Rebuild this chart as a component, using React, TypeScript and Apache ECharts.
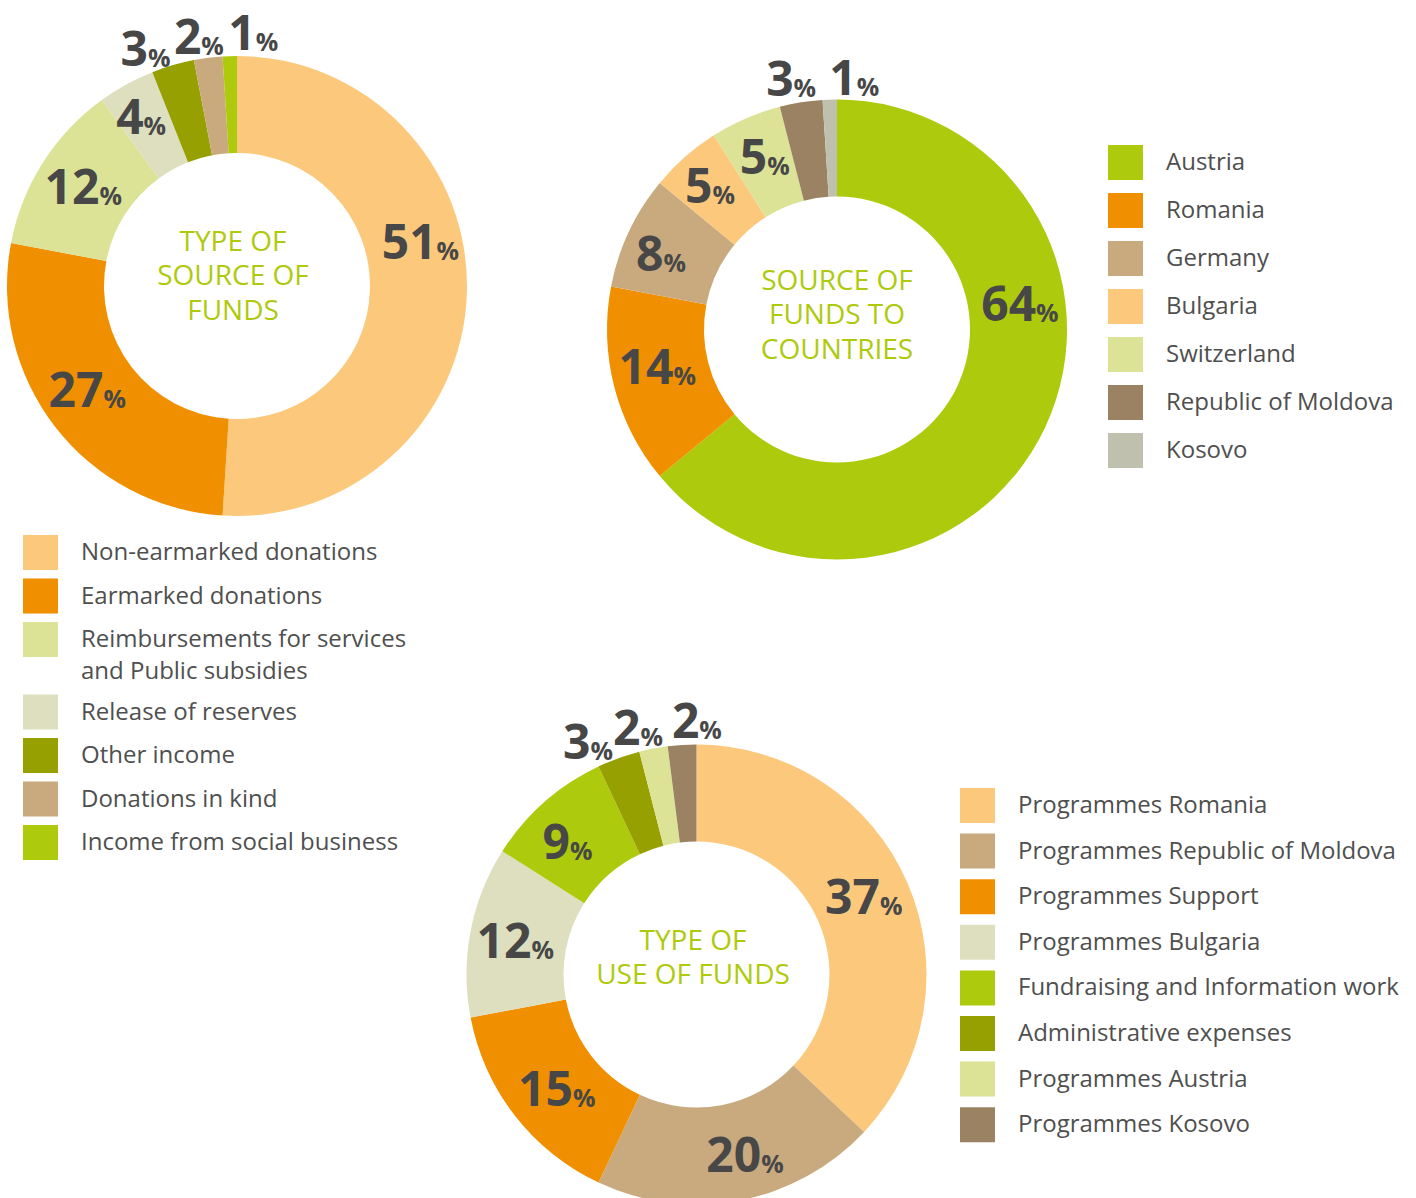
import React, { useEffect, useRef } from "react";
import * as echarts from "echarts";

// ---------- data ----------
const sourceCategories = [
  "Non-earmarked donations",
  "Earmarked donations",
  "Reimbursements for services\nand Public subsidies",
  "Release of reserves",
  "Other income",
  "Donations in kind",
  "Income from social business",
];
const sourceValues = [51, 27, 12, 4, 3, 2, 1];

const countryCategories = [
  "Austria",
  "Romania",
  "Germany",
  "Bulgaria",
  "Switzerland",
  "Republic of Moldova",
  "Kosovo",
];
const countryValues = [64, 14, 8, 5, 5, 3, 1];

const useCategories = [
  "Programmes Romania",
  "Programmes Republic of Moldova",
  "Programmes Support",
  "Programmes Bulgaria",
  "Fundraising and Information work",
  "Administrative expenses",
  "Programmes Austria",
  "Programmes Kosovo",
];
const useValues = [37, 20, 15, 12, 9, 3, 2, 2];

// ---------- styles ----------
const C_LIGHTORANGE = "#FCC97C";
const C_ORANGE = "#F09000";
const C_PALEGREEN = "#DCE396";
const C_PALEGREY = "#DEDFBE";
const C_OLIVE = "#96A000";
const C_TAN = "#C9AA7E";
const C_LIME = "#AECA0C";
const C_BROWN = "#9A8262";
const C_GREY = "#BFC0AE";

const sourceColors = [C_LIGHTORANGE, C_ORANGE, C_PALEGREEN, C_PALEGREY, C_OLIVE, C_TAN, C_LIME];
const countryColors = [C_LIME, C_ORANGE, C_TAN, C_LIGHTORANGE, C_PALEGREEN, C_BROWN, C_GREY];
const useColors = [C_LIGHTORANGE, C_TAN, C_ORANGE, C_PALEGREY, C_LIME, C_OLIVE, C_PALEGREEN, C_BROWN];

const FONT = "'Open Sans', 'Noto Sans', sans-serif";
const LABEL_COLOR = "#474747";
const TEXT_COLOR = "#4f4f4f";
const TITLE_COLOR = "#AECA0C";

// label nudges (px) relative to the ring-middle position
const sourceNudge = [[-1, -52], [-4, -12], [2, -3], [-7, -10], [-40, -62], [-15, -68], [22, -71]];
const countryNudge = [[16, -107], [-1, -11], [-9, 1], [-5, -8], [1, -6], [-17, -71], [23, -70]];
const useNudge = [[-2, -7], [14, -3], [6, -1], [0, -1], [-7, 3], [-46, -61], [-24, -68], [12, -72]];

function pieSeries(
  names: string[],
  values: number[],
  colors: string[],
  center: [number, number],
  nudge: number[][]
) {
  return {
    type: "pie",
    center,
    radius: [133, 230],
    startAngle: 90,
    clockwise: true,
    avoidLabelOverlap: false,
    silent: true,
    emphasis: { disabled: true },
    label: {
      show: true,
      position: "inside",
      formatter: (p: any) => `{v|${p.value}}{p|%}`,
      rich: {
        v: {
          fontFamily: FONT,
          fontSize: 48,
          fontWeight: "bold",
          color: LABEL_COLOR,
          lineHeight: 50,
          verticalAlign: "bottom",
        },
        p: {
          fontFamily: FONT,
          fontSize: 25,
          fontWeight: "bold",
          color: LABEL_COLOR,
          lineHeight: 30,
          verticalAlign: "bottom",
          padding: [0, 0, 2, 0],
        },
      },
    },
    labelLine: { show: false },
    labelLayout: (params: any) => {
      const n = nudge[params.dataIndex] || [0, 0];
      return { dx: n[0], dy: n[1] };
    },
    data: names.map((name, i) => ({
      name,
      value: values[i],
      itemStyle: { color: colors[i] },
    })),
  };
}

function legendGraphics(
  names: string[],
  colors: string[],
  left: number,
  top: number,
  step: number,
  textLeft: number,
  lineH: number
) {
  const els: any[] = [];
  let y = top;
  names.forEach((name, i) => {
    const lines = name.split("\n").length;
    els.push({
      type: "rect",
      left,
      top: y,
      shape: { width: 35, height: 35 },
      style: { fill: colors[i] },
      silent: true,
    });
    els.push({
      type: "text",
      x: textLeft,
      y: y + 17.5 - lineH / 2 - 2,
      style: {
        text: name,
        fontFamily: FONT,
        fontSize: 24,
        fill: TEXT_COLOR,
        align: "left",
        verticalAlign: "top",
        lineHeight: lineH,
      },
      silent: true,
    });
    y += step + (lines - 1) * (lineH - 3);
  });
  return els;
}

function centerTitle(text: string, x: number, y: number) {
  return {
    type: "text",
    x,
    y,
    style: {
      text,
      fontFamily: FONT,
      fontSize: 28,
      fill: TITLE_COLOR,
      align: "center",
      verticalAlign: "middle",
      lineHeight: 34.5,
    },
    silent: true,
  };
}

export default function App() {
  const ref = useRef<HTMLDivElement>(null);
  useEffect(() => {
    if (!ref.current) return;
    const chart = echarts.init(ref.current, undefined, { renderer: "svg" });
    chart.setOption({
      animation: false,
      backgroundColor: "#ffffff",
      series: [
        pieSeries(sourceCategories, sourceValues, sourceColors, [237, 286], sourceNudge),
        pieSeries(countryCategories, countryValues, countryColors, [837, 329.5], countryNudge),
        pieSeries(useCategories, useValues, useColors, [696.5, 974.5], useNudge),
      ],
      graphic: [
        centerTitle("TYPE OF\nSOURCE OF\nFUNDS", 233, 274),
        centerTitle("SOURCE OF\nFUNDS TO\nCOUNTRIES", 837, 313),
        centerTitle("TYPE OF\nUSE OF FUNDS", 693, 956),
        ...legendGraphics(sourceCategories, sourceColors, 23, 535, 43.5, 81, 32),
        ...legendGraphics(countryCategories, countryColors, 1108, 145, 48, 1166, 32),
        ...legendGraphics(useCategories, useColors, 960, 788, 45.6, 1018, 32),
      ],
    });
    return () => chart.dispose();
  }, []);
  return (
    <div
      ref={ref}
      style={{ position: "absolute", left: 0, top: 0, width: 1416, height: 1198 }}
    />
  );
}
